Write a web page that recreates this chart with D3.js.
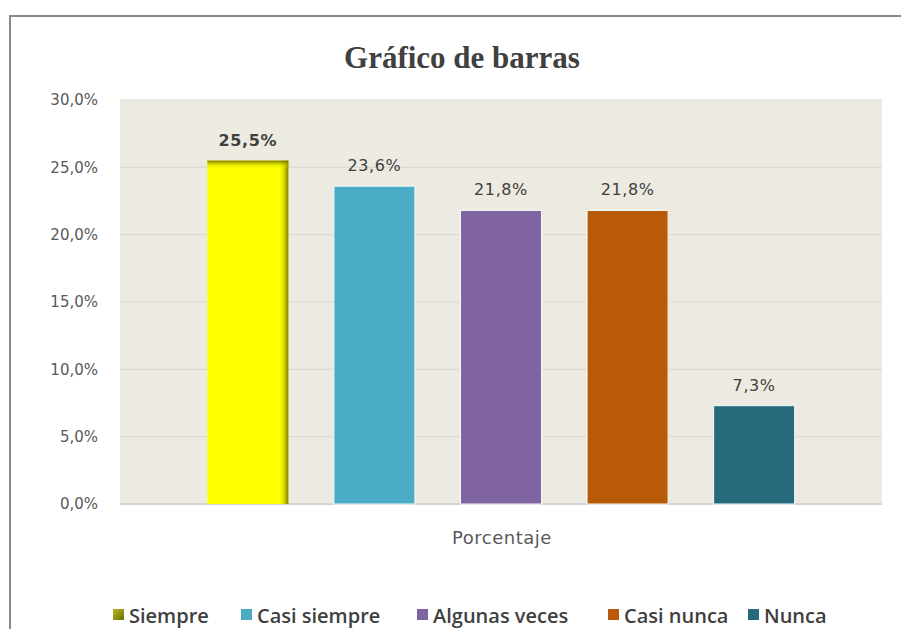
<!DOCTYPE html>
<html>
<head>
<meta charset="utf-8">
<script src="https://cdn.jsdelivr.net/npm/d3@7"></script>
<style>
  body { margin: 0; background: #fff; }
  svg { display: block; }
</style>
</head>
<body>
<div id="chart"><svg width="901" height="629"></svg></div>
<script>
// Data
let categories = ["Siempre", "Casi siempre", "Algunas veces", "Casi nunca", "Nunca"];
let values = [25.5, 23.6, 21.8, 21.8, 7.3];
let colors = ["#FFFF00", "#4BACC6", "#8064A2", "#B85A07", "#266A7C"];
let legendColors = ["#8C8C10", "#4BACC6", "#8064A2", "#B85A07", "#266A7C"];
let yTicks = [0, 5, 10, 15, 20, 25, 30];

let svg = d3.select("div#chart svg"),
  plot = { left: 120, right: 882, top: 100, bottom: 504 };

// Outer frame
svg.append("path")
  .attr("d", "M10,640 L10,16 L905,16")
  .attr("fill", "none")
  .attr("stroke", "#8a8a8a")
  .attr("stroke-width", 2);

// Scales
let x = d3.scaleBand()
  .domain(categories)
  .range([plot.left, plot.right])
  .paddingInner(0.36)
  .paddingOuter(0.69);
let y = d3.scaleLinear()
  .domain([0, 30])
  .range([plot.bottom, plot.top]);

// Plot background
svg.append("rect")
  .attr("x", plot.left)
  .attr("y", plot.top)
  .attr("width", plot.right - plot.left)
  .attr("height", plot.bottom - plot.top)
  .attr("fill", "#EDEBE1");

// Gridlines
svg.append("g")
  .selectAll("line")
  .data(yTicks.filter(d => d > 0))
  .enter()
  .append("line")
    .attr("x1", plot.left)
    .attr("x2", plot.right)
    .attr("y1", d => y(d))
    .attr("y2", d => y(d))
    .attr("stroke", "#DCDAD2")
    .attr("stroke-width", 1.2);

// Baseline
svg.append("line")
  .attr("x1", plot.left)
  .attr("x2", plot.right)
  .attr("y1", y(0))
  .attr("y2", y(0))
  .attr("stroke", "#D4D4D4")
  .attr("stroke-width", 2);

// Y axis labels
let yAxis = svg.append("g")
  .attr("transform", "translate(" + (plot.left - 22) + ",0)")
  .call(d3.axisLeft(y).tickValues(yTicks).tickSize(0).tickPadding(0)
    .tickFormat(d => d3.format(".1f")(d).replace(".", ",") + "%"));
yAxis.select(".domain").remove();
yAxis.selectAll("text")
  .style("font-family", "'DejaVu Sans', sans-serif")
  .style("font-size", "15px")
  .style("fill", "#595959");

// Gradient for the yellow bar bevel
let defs = svg.append("defs");
let grad = defs.append("linearGradient").attr("id", "yellowSide")
  .attr("x1", "0").attr("x2", "1").attr("y1", "0").attr("y2", "0");
grad.append("stop").attr("offset", "0").attr("stop-color", "#FFFF00").attr("stop-opacity", 0);
grad.append("stop").attr("offset", "1").attr("stop-color", "#6B6B00").attr("stop-opacity", 0.9);
let gradTop = defs.append("linearGradient").attr("id", "yellowTop")
  .attr("x1", "0").attr("x2", "0").attr("y1", "0").attr("y2", "1");
gradTop.append("stop").attr("offset", "0").attr("stop-color", "#6B6B00").attr("stop-opacity", 0.9);
gradTop.append("stop").attr("offset", "1").attr("stop-color", "#FFFF00").attr("stop-opacity", 0);
let gradLeg = defs.append("linearGradient").attr("id", "legendYellow")
  .attr("x1", "0").attr("x2", "1").attr("y1", "0").attr("y2", "1");
gradLeg.append("stop").attr("offset", "0").attr("stop-color", "#B8B820");
gradLeg.append("stop").attr("offset", "1").attr("stop-color", "#6E6E00");

// Bars
svg.append("g")
  .selectAll("rect")
  .data(categories)
  .enter()
  .append("rect")
    .attr("x", d => x(d))
    .attr("y", (d, i) => y(values[i]))
    .attr("width", x.bandwidth())
    .attr("height", (d, i) => y(0) - y(values[i]))
    .attr("fill", (d, i) => colors[i])
    .attr("stroke", (d, i) => i == 0 ? "none" : "#F4FAFC")
    .attr("stroke-width", 1);

// Bevel on first bar
svg.append("rect")
  .attr("x", x(categories[0]) + x.bandwidth() - 10)
  .attr("y", y(values[0]))
  .attr("width", 10)
  .attr("height", y(0) - y(values[0]))
  .attr("fill", "url(#yellowSide)");
svg.append("rect")
  .attr("x", x(categories[0]))
  .attr("y", y(values[0]))
  .attr("width", x.bandwidth())
  .attr("height", 8)
  .attr("fill", "url(#yellowTop)");

// Value labels
svg.append("g")
  .selectAll("text")
  .data(categories)
  .enter()
  .append("text")
    .attr("x", d => x(d) + x.bandwidth() / 2)
    .attr("y", (d, i) => y(values[i]) - 15)
    .attr("text-anchor", "middle")
    .style("font-family", "'DejaVu Sans', sans-serif")
    .style("font-size", "16px")
    .style("letter-spacing", "0.6px")
    .style("font-weight", (d, i) => i == 0 ? "bold" : "normal")
    .style("fill", "#404040")
    .text((d, i) => d3.format(".1f")(values[i]).replace(".", ",") + "%");

// Title
svg.append("text")
  .attr("x", 462)
  .attr("y", 68)
  .attr("text-anchor", "middle")
  .style("font-family", "'Liberation Serif', 'DejaVu Serif', serif")
  .style("font-size", "31px")
  .style("font-weight", "bold")
  .style("fill", "#404040")
  .text("Gráfico de barras");

// Axis title
svg.append("text")
  .attr("x", 502)
  .attr("y", 544)
  .attr("text-anchor", "middle")
  .style("font-family", "'DejaVu Sans', sans-serif")
  .style("font-size", "18px")
  .style("letter-spacing", "0.5px")
  .style("fill", "#595959")
  .text("Porcentaje");

// Legend
let legendX = [113, 241, 417, 608, 748];
let legend = svg.append("g");
let items = legend.selectAll("g")
  .data(categories)
  .enter()
  .append("g")
    .attr("transform", (d, i) => "translate(" + legendX[i] + ",623)");
items.append("rect")
  .attr("x", 0)
  .attr("y", -14)
  .attr("width", 11)
  .attr("height", 11)
  .attr("fill", (d, i) => i == 0 ? "url(#legendYellow)" : legendColors[i]);
items.append("text")
  .attr("x", 16)
  .attr("y", 0)
  .style("font-family", "'Open Sans', sans-serif")
  .style("font-size", "20px")
  .style("font-weight", "600")
  .style("fill", "#404040")
  .text(d => d);
</script>
</body>
</html>
